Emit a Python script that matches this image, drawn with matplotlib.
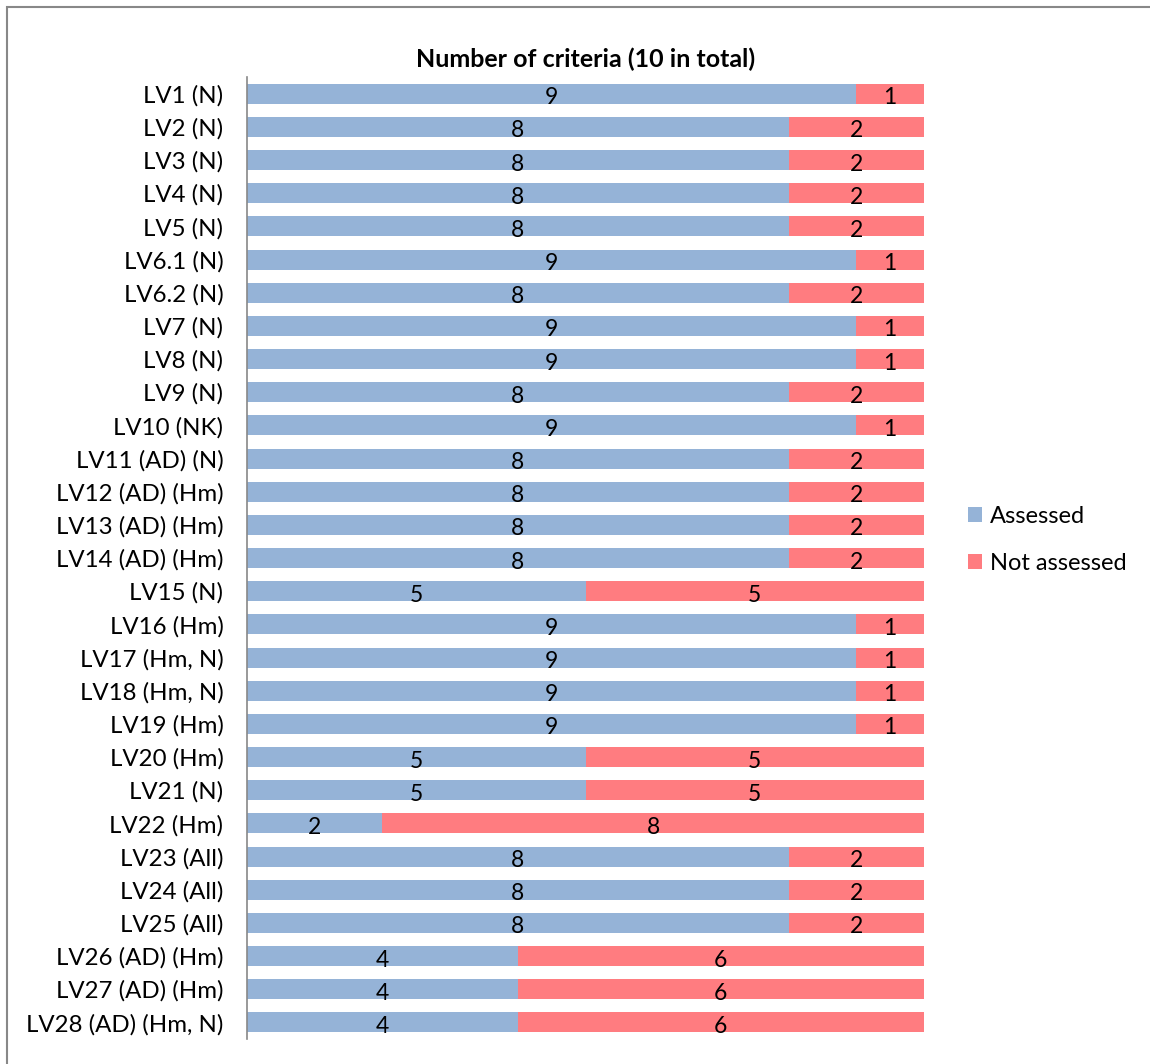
import matplotlib.pyplot as plt
from matplotlib.patches import Rectangle

plt.rcParams["font.family"] = ["Lato", "DejaVu Sans"]

categories = [
    "LV1 (N)", "LV2 (N)", "LV3 (N)", "LV4 (N)", "LV5 (N)", "LV6.1 (N)",
    "LV6.2 (N)", "LV7 (N)", "LV8 (N)", "LV9 (N)", "LV10 (NK)", "LV11 (AD) (N)",
    "LV12 (AD) (Hm)", "LV13 (AD) (Hm)", "LV14 (AD) (Hm)", "LV15 (N)",
    "LV16 (Hm)", "LV17 (Hm, N)", "LV18 (Hm, N)", "LV19 (Hm)", "LV20 (Hm)",
    "LV21 (N)", "LV22 (Hm)", "LV23 (All)", "LV24 (All)", "LV25 (All)",
    "LV26 (AD) (Hm)", "LV27 (AD) (Hm)", "LV28 (AD) (Hm, N)",
]
assessed = [9, 8, 8, 8, 8, 9, 8, 9, 9, 8, 9, 8, 8, 8, 8, 5, 9, 9, 9, 9, 5, 5, 2, 8, 8, 8, 4, 4, 4]
not_assessed = [1, 2, 2, 2, 2, 1, 2, 1, 1, 2, 1, 2, 2, 2, 2, 5, 1, 1, 1, 1, 5, 5, 8, 2, 2, 2, 6, 6, 6]

blue = "#95b3d7"
red = "#ff7c80"

fig = plt.figure(figsize=(11.5, 10.64), dpi=100)
ax = fig.add_axes([0.2148, 0.0235, 0.5887, 0.904])

y = list(range(len(categories)))
b1 = ax.barh(y, assessed, height=0.6, color=blue, label="Assessed")
b2 = ax.barh(y, not_assessed, left=assessed, height=0.6, color=red, label="Not assessed")

for vals, lefts in [(assessed, [0] * len(assessed)), (not_assessed, assessed)]:
    for yi, v, l in zip(y, vals, lefts):
        ax.text(l + v / 2, yi + 0.12, str(v), ha="center", va="center", fontsize=16.5)

ax.set_xlim(0, 10)
ax.set_ylim(len(categories) - 0.5, -0.5)
ax.set_yticks(y)
ax.set_yticklabels(categories, fontsize=17.3)
ax.tick_params(axis="y", length=0, pad=17)
ax.set_xticks([])
ax.spines[["top", "right", "bottom"]].set_visible(False)
ax.spines["left"].set_color("#888888")
ax.spines["left"].set_linewidth(1.2)

ax.set_title("Number of criteria (10 in total)", fontsize=18, fontweight="bold", pad=7)

ax.legend(
    loc="center left",
    bbox_to_anchor=(1.034, 0.519),
    frameon=False,
    fontsize=17,
    handlelength=0.6,
    handleheight=0.6,
    handletextpad=0.3,
    labelspacing=1.1,
)

fig.patches.append(
    Rectangle((7 / 1150, -0.1), 2, 1.1 - 7 / 1064, transform=fig.transFigure,
              fill=False, edgecolor="#888888", linewidth=1.5)
)

fig.savefig("out.png", dpi=100)
